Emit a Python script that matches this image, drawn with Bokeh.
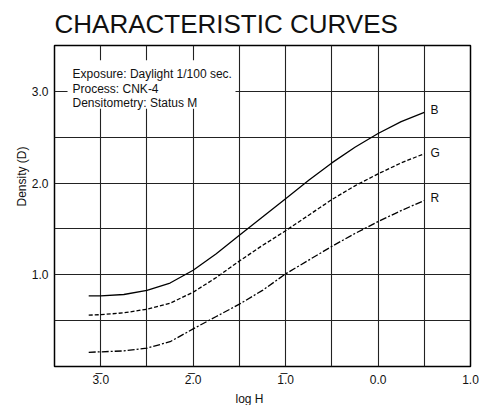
from bokeh.plotting import figure
from bokeh.models import FixedTicker, Label, Range1d, Title
from bokeh.embed import file_html
from bokeh.resources import INLINE

# ---- data ----
log_h = [-3.13, -3.0, -2.75, -2.5, -2.25, -2.0, -1.75, -1.5, -1.25, -1.0,
         -0.75, -0.5, -0.25, 0.0, 0.25, 0.5]
b_density = [0.77, 0.77, 0.785, 0.83, 0.91, 1.05, 1.23, 1.43, 1.63, 1.83,
             2.03, 2.22, 2.39, 2.54, 2.67, 2.77]
g_density = [0.56, 0.565, 0.585, 0.625, 0.69, 0.81, 0.97, 1.15, 1.32, 1.48,
             1.65, 1.82, 1.97, 2.10, 2.22, 2.32]
r_density = [0.155, 0.16, 0.17, 0.20, 0.27, 0.41, 0.545, 0.68, 0.83, 1.01,
             1.16, 1.31, 1.45, 1.58, 1.70, 1.81]

x_ticks = [-3, -2, -1, 0, 1]
x_tick_labels = ["3\u0305.0", "2\u0305.0", "1\u0305.0", "0.0", "1.0"]
y_ticks = [1, 2, 3]
y_tick_labels = ["1.0", "2.0", "3.0"]
x_grid = [-3.0, -2.5, -2.0, -1.5, -1.0, -0.5, 0.0, 0.5]
y_grid = [0.5, 1.0, 1.5, 2.0, 2.5, 3.0]

title_text = "CHARACTERISTIC CURVES"
x_title = "log H"
y_title = "Density (D)"
info_lines = ["Exposure: Daylight 1/100 sec.", "Process: CNK-4", "Densitometry: Status M"]
curve_names = ["B", "G", "R"]

FONT = "Liberation Sans"
TXT = "#111111"

p = figure(width=494, height=405, output_backend="svg", toolbar_location=None,
           x_range=Range1d(-3.5, 1.0), y_range=Range1d(0.0, 3.5),
           min_border_left=54, min_border_right=24, min_border_top=43,
           min_border_bottom=38)
p.title.text = title_text
p.title.align = "left"
p.title.text_font = FONT
p.title.text_font_size = "26px"
p.title.text_font_style = "normal"
p.title.text_color = TXT
p.title.standoff = 13

p.background_fill_color = "white"
p.border_fill_color = "white"
p.outline_line_color = "black"
p.outline_line_width = 1.5

# axes
p.xaxis.ticker = FixedTicker(ticks=x_ticks)
p.xaxis.major_label_overrides = dict(zip(x_ticks, x_tick_labels))
p.yaxis.ticker = FixedTicker(ticks=y_ticks)
p.yaxis.major_label_overrides = dict(zip(y_ticks, y_tick_labels))
for ax in (p.xaxis, p.yaxis):
    ax.axis_line_color = None
    ax.major_tick_line_color = None
    ax.minor_tick_line_color = None
    ax.major_tick_out = 0
    ax.major_tick_in = 0
    ax.major_label_text_font = FONT
    ax.major_label_text_font_size = "12px"
    ax.major_label_text_color = TXT
p.xaxis.major_label_standoff = 6
p.yaxis.major_label_standoff = 6

# axis titles as side-panel titles (positioned along the axis)
p.add_layout(Title(text=x_title, align="left", offset=181, text_font=FONT,
                   text_font_size="12px", text_font_style="normal",
                   text_color=TXT, standoff=0), "below")
p.add_layout(Title(text=y_title, align="left", offset=160, text_font=FONT,
                   text_font_size="12px", text_font_style="normal",
                   text_color=TXT, standoff=0), "left")

# grid
p.xgrid.ticker = FixedTicker(ticks=x_grid)
p.ygrid.ticker = FixedTicker(ticks=y_grid)
for g in (p.xgrid, p.ygrid):
    g.grid_line_color = "#222222"
    g.grid_line_width = 1.1

# white box behind info text
p.quad(left=[-3.359], right=[-1.542], bottom=[2.809], top=[3.338],
       fill_color="white", line_color=None)

# curves
p.line(log_h, b_density, line_color="black", line_width=1.3)
p.line(log_h, g_density, line_color="black", line_width=1.3, line_dash="4 2")
p.line(log_h, r_density, line_color="black", line_width=1.3, line_dash="7 2 2 2")

# curve labels
for name, yy in zip(curve_names, [2.80, 2.325, 1.84]):
    p.add_layout(Label(x=0.567, y=yy, text=name, text_font=FONT,
                       text_font_size="12px", text_baseline="middle",
                       text_align="left", text_color=TXT))

# info text
for line, yy in zip(info_lines, [3.187, 3.030, 2.873]):
    p.add_layout(Label(x=-3.305, y=yy, text=line, text_font=FONT,
                       text_font_size="12px", text_baseline="middle",
                       text_align="left", text_color=TXT))

open("out.html", "w").write(file_html(p, INLINE))
